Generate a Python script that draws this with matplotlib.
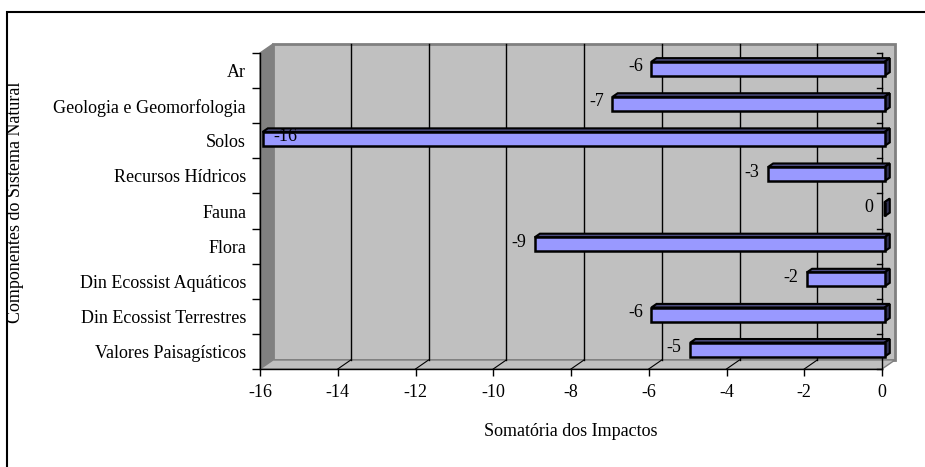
import matplotlib.pyplot as plt
from matplotlib.patches import Polygon, Rectangle
import numpy as np

# Component names (top to bottom as listed) and summed impacts
componentes = ["Ar", "Geologia e Geomorfologia", "Solos", "Recursos Hídricos",
               "Fauna", "Flora", "Din Ecossist Aquáticos", "Din Ecossist Terrestres",
               "Valores Paisagísticos"]
impactos = [-6, -7, -16, -3, 0, -9, -2, -6, -5]
x_ticks = [-16, -14, -12, -10, -8, -6, -4, -2, 0]

plt.rcParams["font.family"] = ["Liberation Serif", "DejaVu Serif"]
FS = 13

W, H = 925, 467
fig = plt.figure(figsize=(W / 100, H / 100), dpi=100)

# front plane of the 3D box, in pixels
x0, x1 = 260, 882
y_top, y_bot = 53, 369
ax = fig.add_axes([x0 / W, 1 - y_bot / H, (x1 - x0) / W, (y_bot - y_top) / H])
ax.set_xlim(-16, 0)
n = len(componentes)
ax.set_ylim(-0.5, n - 0.5)
ax.patch.set_visible(False)

# depth offset (back plane relative to front plane) in data units
px_x = (x1 - x0) / 16
px_y = (y_bot - y_top) / n
DX, DY = 13 / px_x, 9 / px_y

lo, hi = -0.5, n - 0.5
# back wall
ax.add_patch(Polygon([(-16 + DX, lo + DY), (DX, lo + DY), (DX, hi + DY), (-16 + DX, hi + DY)],
                     closed=True, facecolor="#C0C0C0", edgecolor="#808080", lw=2,
                     clip_on=False, zorder=0))
# left side wall
ax.add_patch(Polygon([(-16, lo), (-16 + DX, lo + DY), (-16 + DX, hi + DY), (-16, hi)],
                     closed=True, facecolor="#808080", edgecolor="#808080", lw=1,
                     clip_on=False, zorder=0.5))
# floor
ax.add_patch(Polygon([(-16, lo), (0, lo), (DX, lo + DY), (-16 + DX, lo + DY)],
                     closed=True, facecolor="#C0C0C0", edgecolor="#808080", lw=1,
                     clip_on=False, zorder=0.5))

# gridlines on back wall and floor
for v in x_ticks[1:-1]:
    ax.plot([v + DX, v + DX], [lo + DY, hi + DY], color="black", lw=1, zorder=1, clip_on=False)
    ax.plot([v, v + DX], [lo, lo + DY], color="black", lw=0.8, zorder=1, clip_on=False)

# category axis line on the value-zero side, with inward ticks
tick_len = 5 / px_x
ax.plot([0, 0], [lo, hi], color="black", lw=1, zorder=1.5, clip_on=False)
for b in np.arange(lo, hi + 0.01, 1):
    ax.plot([-tick_len, 0], [b, b], color="black", lw=1, zorder=1.5, clip_on=False)

# 3D bars
tf, tb = 0.2, 0.6
h = 0.2
ys = np.arange(n)[::-1]
for y, v in zip(ys, impactos):
    fx0, fx1 = v + tf * DX, tf * DX
    fy0, fy1 = y - h + tf * DY, y + h + tf * DY
    bx0, bx1 = v + tb * DX, tb * DX
    by1 = y + h + tb * DY
    by0 = y - h + tb * DY
    ax.add_patch(Polygon([(fx0, fy1), (fx1, fy1), (bx1, by1), (bx0, by1)], closed=True,
                         facecolor="#4D4D80", edgecolor="black", lw=1.5, zorder=3, clip_on=False))
    ax.add_patch(Polygon([(fx1, fy0), (fx1, fy1), (bx1, by1), (bx1, by0)], closed=True,
                         facecolor="#333355", edgecolor="black", lw=1.5, zorder=3, clip_on=False))
    ax.add_patch(Rectangle((fx0, fy0), fx1 - fx0, fy1 - fy0, facecolor="#9999FF",
                           edgecolor="black", lw=1.8, zorder=4, clip_on=False))
    off = 23 if v <= -15 else -16
    ax.annotate(str(v), (fx0, y + tf * DY), xytext=(off * 0.72, 1.5), textcoords="offset points",
                ha="center", va="center", fontsize=FS, zorder=5, annotation_clip=False)

# axes styling
for s in ["top", "right"]:
    ax.spines[s].set_visible(False)
ax.spines["left"].set_linewidth(1)
ax.spines["bottom"].set_linewidth(1)
ax.set_xticks(x_ticks)
ax.set_xticklabels([str(t) for t in x_ticks], fontsize=FS)
ax.tick_params(axis="x", direction="out", length=5, width=1, pad=6)
ax.set_yticks(ys)
ax.set_yticklabels(componentes, fontsize=FS)
ax.set_yticks(np.arange(lo, hi + 0.01, 1), minor=True)
ax.tick_params(axis="y", which="major", length=0, pad=10)
ax.tick_params(axis="y", which="minor", direction="out", length=6, width=1)

fig.text(571 / W, 1 - 432 / H, "Somatória dos Impactos", ha="center", va="center", fontsize=FS)
fig.text(16 / W, 1 - 202 / H, "Componentes do Sistema Natural", ha="center", va="center",
         rotation=90, fontsize=FS)

# chart area border
fig.patches.append(Rectangle((7 / W, -0.1), 1.2, 1 - 12 / H + 0.1, transform=fig.transFigure,
                             facecolor="none", edgecolor="black", lw=1.5))

fig.savefig("out.png", dpi=100)
